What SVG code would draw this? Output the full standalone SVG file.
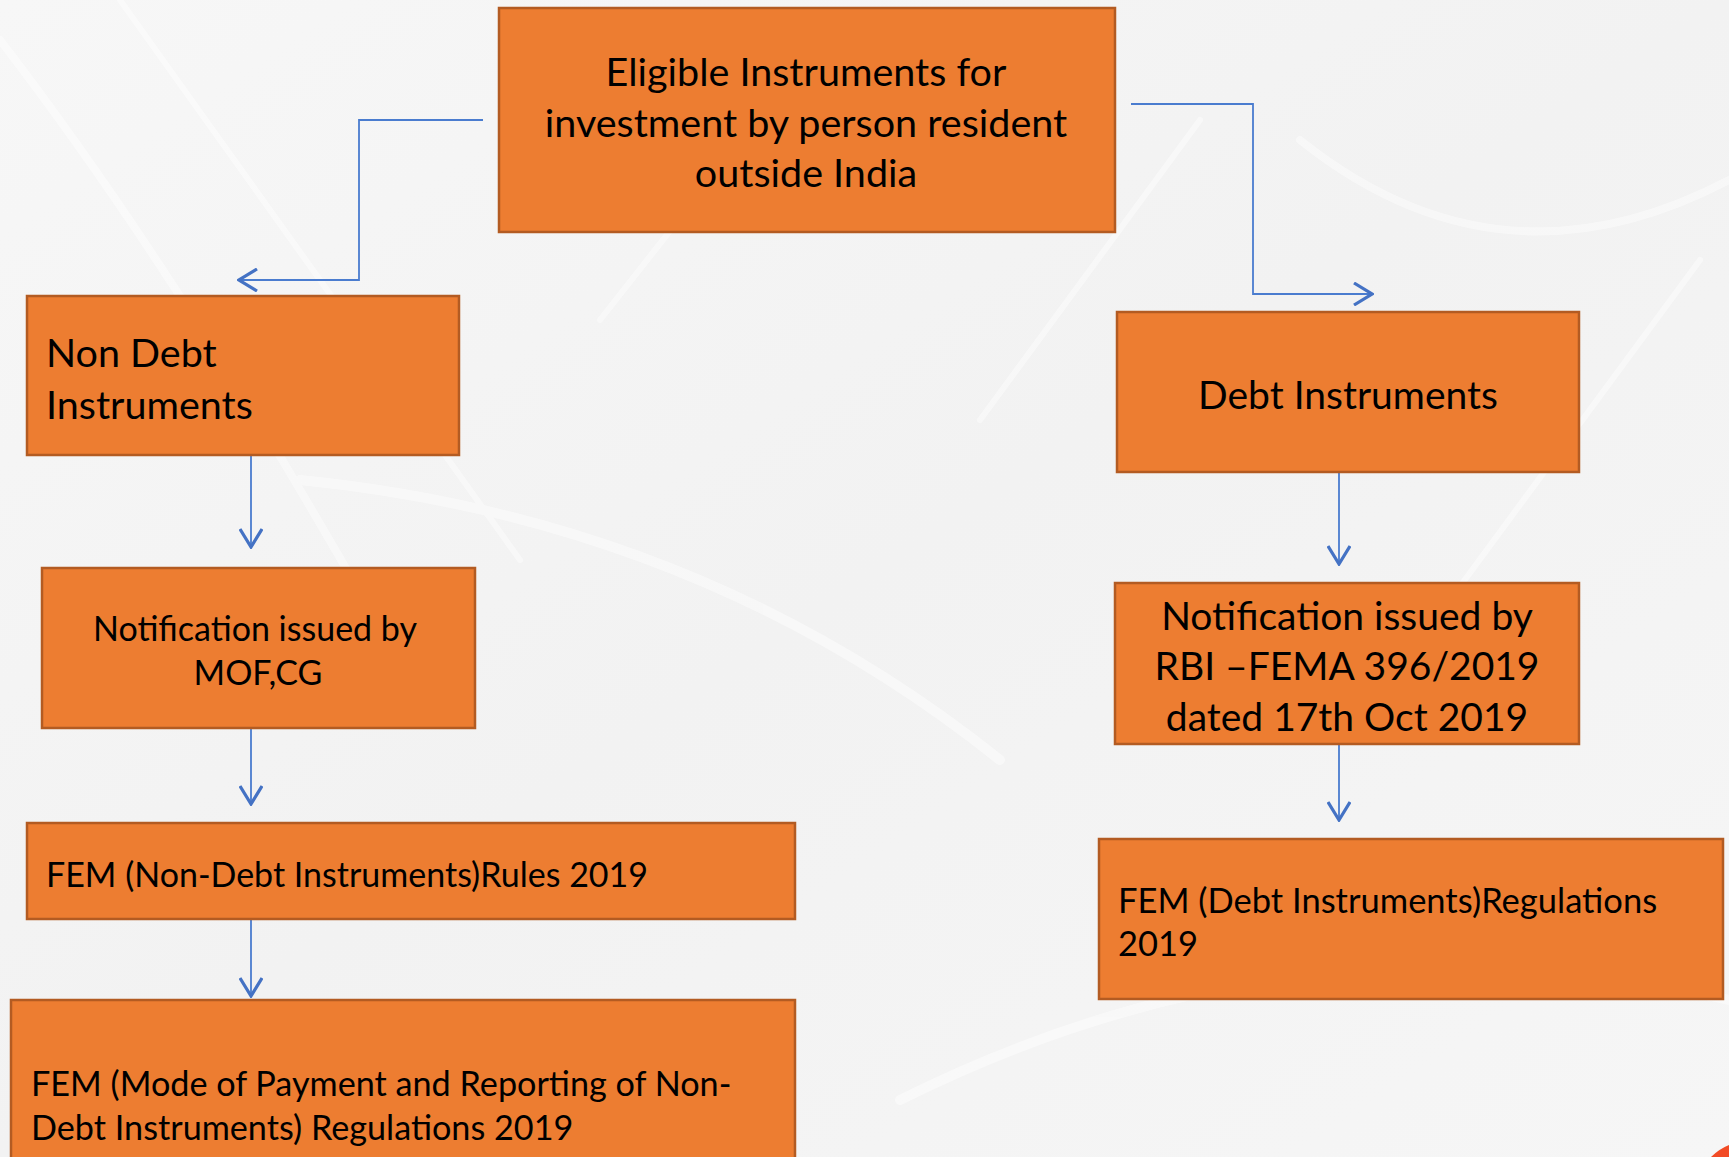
<svg xmlns="http://www.w3.org/2000/svg" width="1729" height="1157" viewBox="0 0 1729 1157">
<defs>
<style>
.box{fill:#ED7D31;stroke:#B35B22;stroke-width:2.5}
.t{font-family:Lato,"Open Sans","Liberation Sans",sans-serif;fill:#000}
.c{fill:none;stroke:#4A7CCF;stroke-width:1.8}
.bgs{fill:none;stroke:#ffffff;stroke-linecap:round}
</style>
<marker id="ah" viewBox="0 0 22 24" refX="21" refY="12" markerWidth="22" markerHeight="24" markerUnits="userSpaceOnUse" orient="auto">
<path d="M2,1 L20,12 L2,23" fill="none" stroke="#4472C4" stroke-width="3.2"/>
</marker>
<linearGradient id="bg" x1="0" y1="0" x2="1" y2="1">
<stop offset="0" stop-color="#f7f7f7"/>
<stop offset="0.5" stop-color="#f2f2f2"/>
<stop offset="1" stop-color="#f6f6f6"/>
</linearGradient>
</defs>
<rect x="0" y="0" width="1729" height="1157" fill="url(#bg)"/>
<g opacity="0.45">
<path class="bgs" stroke-width="8" d="M0,40 Q200,300 420,700"/>
<path class="bgs" stroke-width="6" d="M120,0 Q300,250 520,560"/>
<path class="bgs" stroke-width="10" d="M300,480 Q700,520 1000,760"/>
<path class="bgs" stroke-width="8" d="M1300,140 Q1500,300 1729,180"/>
<path class="bgs" stroke-width="10" d="M900,1100 Q1300,900 1729,1000"/>
<path class="bgs" stroke-width="6" d="M600,320 L820,40"/>
<path class="bgs" stroke-width="6" d="M980,420 L1200,120"/>
<path class="bgs" stroke-width="6" d="M1450,600 L1700,260"/>
</g>
<path d="M1729,1145 Q1719,1149 1711,1157 L1729,1157 Z" fill="#F24B25"/>
<g id="connectors">
<path class="c" d="M483,120 H359 V280 H238" marker-end="url(#ah)"/>
<path class="c" d="M1131,104 H1253 V294 H1373" marker-end="url(#ah)"/>
<path class="c" d="M251,456 V548" marker-end="url(#ah)"/>
<path class="c" d="M251,729 V805" marker-end="url(#ah)"/>
<path class="c" d="M251,920 V997" marker-end="url(#ah)"/>
<path class="c" d="M1339,473 V565" marker-end="url(#ah)"/>
<path class="c" d="M1339,745 V821" marker-end="url(#ah)"/>
</g>
<g id="n-top">
<rect class="box" x="499" y="8" width="616" height="224"/>
<text class="t" font-size="39.5" text-anchor="middle" x="806" y="86">Eligible Instruments for</text>
<text class="t" font-size="39.5" text-anchor="middle" x="806" y="137">investment by person resident</text>
<text class="t" font-size="39.5" text-anchor="middle" x="806" y="187">outside India</text>
</g>
<g id="n-nondebt">
<rect class="box" x="27" y="296" width="432" height="159"/>
<text class="t" font-size="39.5" x="46" y="367">Non Debt</text>
<text class="t" font-size="39.5" x="46" y="419">Instruments</text>
</g>
<g id="n-debt">
<rect class="box" x="1117" y="312" width="462" height="160"/>
<text class="t" font-size="39" text-anchor="middle" x="1348" y="409">Debt Instruments</text>
</g>
<g id="n-mof">
<rect class="box" x="42" y="568" width="433" height="160"/>
<text class="t" font-size="34" text-anchor="middle" x="255" y="641">Notification issued by</text>
<text class="t" font-size="34" text-anchor="middle" x="258" y="685">MOF,CG</text>
</g>
<g id="n-rbi">
<rect class="box" x="1115" y="583" width="464" height="161"/>
<text class="t" font-size="39" text-anchor="middle" x="1347" y="630">Notification issued by</text>
<text class="t" font-size="39" text-anchor="middle" x="1347" y="680">RBI –FEMA 396/2019</text>
<text class="t" font-size="39" text-anchor="middle" x="1347" y="731">dated 17th Oct 2019</text>
</g>
<g id="n-rules">
<rect class="box" x="27" y="823" width="768" height="96"/>
<text class="t" font-size="34" x="46" y="887">FEM (Non-Debt Instruments)Rules 2019</text>
</g>
<g id="n-femdebt">
<rect class="box" x="1099" y="839" width="624" height="160"/>
<text class="t" font-size="34.5" x="1118" y="913">FEM (Debt Instruments)Regulations</text>
<text class="t" font-size="34.5" x="1118" y="956">2019</text>
</g>
<g id="n-mode">
<rect class="box" x="11" y="1000" width="784" height="170"/>
<text class="t" font-size="34.2" x="31" y="1096">FEM (Mode of Payment and Reporting of Non-</text>
<text class="t" font-size="34.2" x="31" y="1140">Debt Instruments) Regulations 2019</text>
</g>
</svg>
